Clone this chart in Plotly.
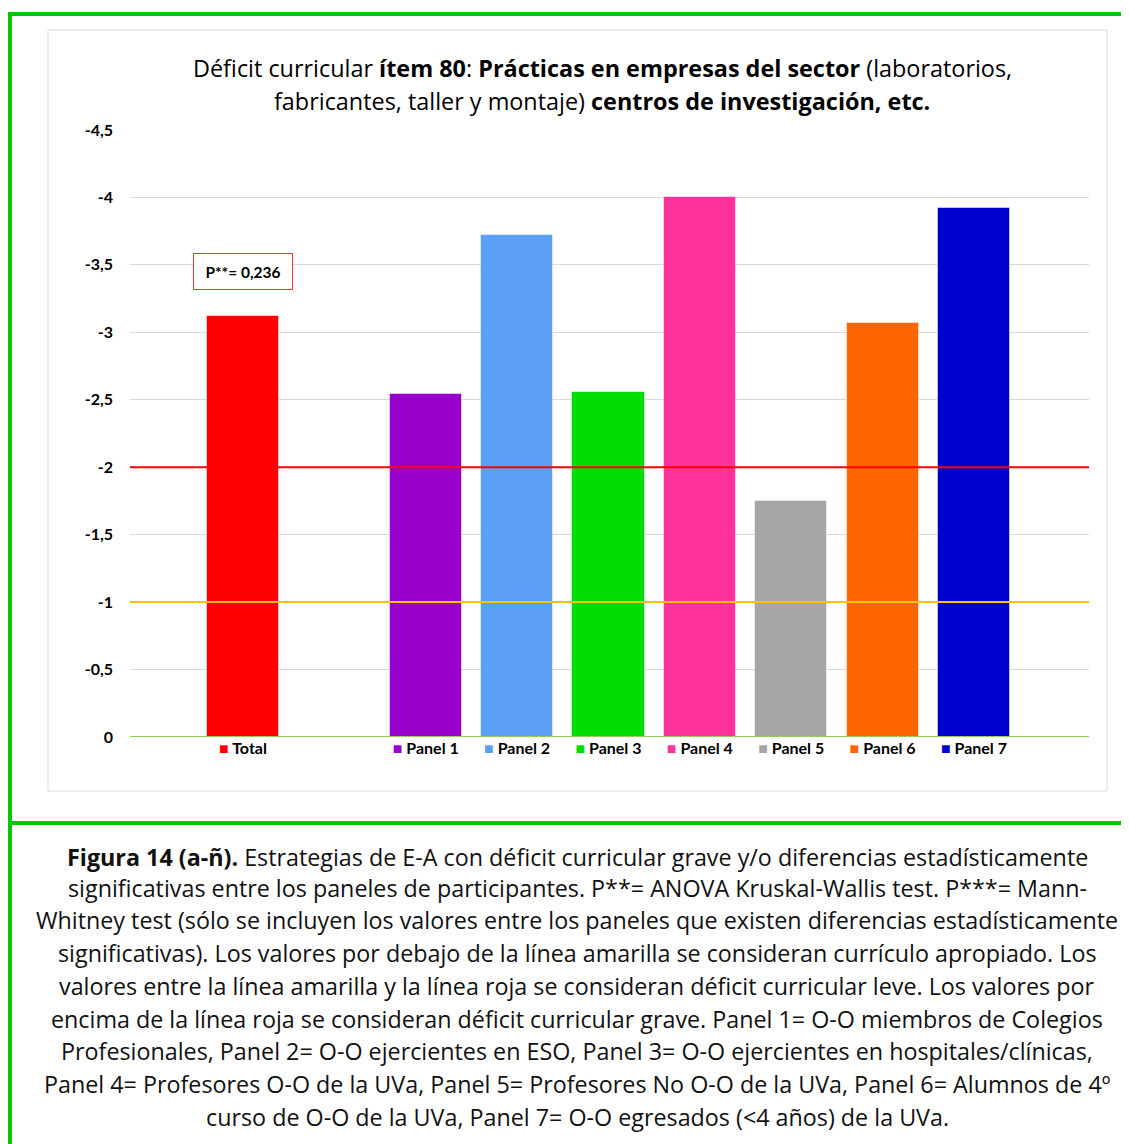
import plotly.graph_objects as go

# ---------------- data ----------------
categories = ["Total", "Panel 1", "Panel 2", "Panel 3", "Panel 4", "Panel 5", "Panel 6", "Panel 7"]
slots = [0, 2, 3, 4, 5, 6, 7, 8]          # category slot (one empty slot after Total)
values = [-3.12, -2.54, -3.72, -2.56, -4.00, -1.75, -3.07, -3.92]
colors = ["#FF0000", "#9900CC", "#5BA0F5", "#00DD00", "#FF3399", "#A6A6A6", "#FF6600", "#0000CC"]
thresholds = [-2, -1, 0]
threshold_colors = ["#FF0000", "#FFC000", "#92D050"]
y_ticks = [0, -0.5, -1, -1.5, -2, -2.5, -3, -3.5, -4, -4.5]
y_ticklabels = ["0", "-0,5", "-1", "-1,5", "-2", "-2,5", "-3", "-3,5", "-4", "-4,5"]
p_label = "P**= 0,236"
p_pos = -3.45

title_lines = [
    "Déficit curricular <b>ítem 80</b>: <b>Prácticas en empresas del sector</b> (laboratorios,",
    "fabricantes, taller y montaje) <b>centros de investigación, etc.</b>",
]
caption_lines = [
    "<b>Figura 14 (a-ñ).</b> Estrategias de E-A con déficit curricular grave y/o diferencias estadísticamente",
    "significativas entre los paneles de participantes. P**= ANOVA Kruskal-Wallis test. P***= Mann-",
    "Whitney test (sólo se incluyen los valores entre los paneles que existen diferencias estadísticamente",
    "significativas). Los valores por debajo de la línea amarilla se consideran currículo apropiado. Los",
    "valores entre la línea amarilla y la línea roja se consideran déficit curricular leve. Los valores por",
    "encima de la línea roja se consideran déficit curricular grave. Panel 1= O-O miembros de Colegios",
    "Profesionales, Panel 2= O-O ejercientes en ESO, Panel 3= O-O ejercientes en hospitales/clínicas,",
    "Panel 4= Profesores O-O de la UVa, Panel 5= Profesores No O-O de la UVa, Panel 6= Alumnos de 4º",
    "curso de O-O de la UVa, Panel 7= O-O egresados (&lt;4 años) de la UVa.",
]

# ---------------- layout geometry (page pixel coordinates) ----------------
PAGE_W, PAGE_H = 1129, 1144
OFF = 8                                   # default body margin of the page
W, H = PAGE_W - OFF, PAGE_H - OFF
PL, PR, PT, PB = 130, 1089, 130, 737      # plot area on the page
XR = [-1.237, 9.259]


def px_x(x):
    return (x - PL) / (PR - PL)


def px_y(y):
    return (PB - y) / (PB - PT)


TICKFONT = "Lato, 'Open Sans', sans-serif"
TEXTFONT = "'Open Sans', 'Noto Sans', sans-serif"

fig = go.Figure()

fig.add_trace(go.Bar(
    x=slots, y=values, width=0.79,
    marker=dict(color=colors, line=dict(color="rgba(255,255,255,0.5)", width=1)),
    showlegend=False, hoverinfo="skip",
))

for t, c in zip(thresholds, threshold_colors):
    fig.add_trace(go.Scatter(
        x=XR, y=[t, t], mode="lines",
        line=dict(color=c, width=2), showlegend=False, hoverinfo="skip",
    ))

ticktext = [
    f"<span style='color:{c}'>■</span> {n}" for n, c in zip(categories, colors)
]

shapes = [
    # chart box
    dict(type="rect", xref="paper", yref="paper",
         x0=px_x(48), x1=px_x(1107), y0=px_y(791), y1=px_y(30),
         line=dict(color="#D9D9D9", width=1), layer="below"),
    # green frame
    dict(type="line", xref="paper", yref="paper",
         x0=px_x(10), x1=px_x(10), y0=px_y(12), y1=px_y(1160),
         line=dict(color="#00C800", width=4)),
    dict(type="line", xref="paper", yref="paper",
         x0=px_x(8), x1=px_x(1140), y0=px_y(14), y1=px_y(14),
         line=dict(color="#00C800", width=4)),
    dict(type="line", xref="paper", yref="paper",
         x0=px_x(8), x1=px_x(1140), y0=px_y(823), y1=px_y(823),
         line=dict(color="#00C800", width=4)),
]

annotations = []
for i, line in enumerate(title_lines):
    annotations.append(dict(
        text=line, xref="paper", yref="paper",
        x=px_x(602), y=px_y([68, 101][i]), xanchor="center", yanchor="middle",
        showarrow=False, font=dict(family=TEXTFONT, size=23.4, color="#000000"),
    ))

cap_y = [857, 888, 920, 953, 986, 1019, 1051, 1084, 1117]
for line, yy in zip(caption_lines, cap_y):
    annotations.append(dict(
        text=line, xref="paper", yref="paper",
        x=px_x(577), y=px_y(yy), xanchor="center", yanchor="middle",
        showarrow=False, font=dict(family=TEXTFONT, size=23.3, color="#111111"),
    ))

annotations.append(dict(
    text=f"<b>{p_label}</b>", x=slots[0], y=p_pos, xref="x", yref="y",
    showarrow=False, font=dict(family=TICKFONT, size=15.5, color="#000000"),
    bordercolor="#FF3030", borderwidth=1, bgcolor="#FFFFFF",
    width=92, height=29, borderpad=3,
))

fig.update_layout(
    width=W, height=H,
    margin=dict(l=PL - OFF, r=PAGE_W - PR, t=PT - OFF, b=PAGE_H - PB),
    paper_bgcolor="#FFFFFF", plot_bgcolor="#FFFFFF",
    shapes=shapes, annotations=annotations,
    bargap=0,
    xaxis=dict(
        range=XR, tickvals=slots, ticktext=ticktext,
        showgrid=False, zeroline=False, showline=False, ticks="",
        tickfont=dict(family=TICKFONT, size=16, color="#000000", weight="bold"),
    ),
    yaxis=dict(
        range=[0, -4.5], tickvals=y_ticks, ticktext=y_ticklabels,
        showgrid=True, gridcolor="#D9D9D9", gridwidth=1,
        zeroline=False, showline=False, ticks="",
        ticklabelstandoff=16,
        tickfont=dict(family=TICKFONT, size=16, color="#000000", weight="bold"),
    ),
)

fig.write_html("out.html")
